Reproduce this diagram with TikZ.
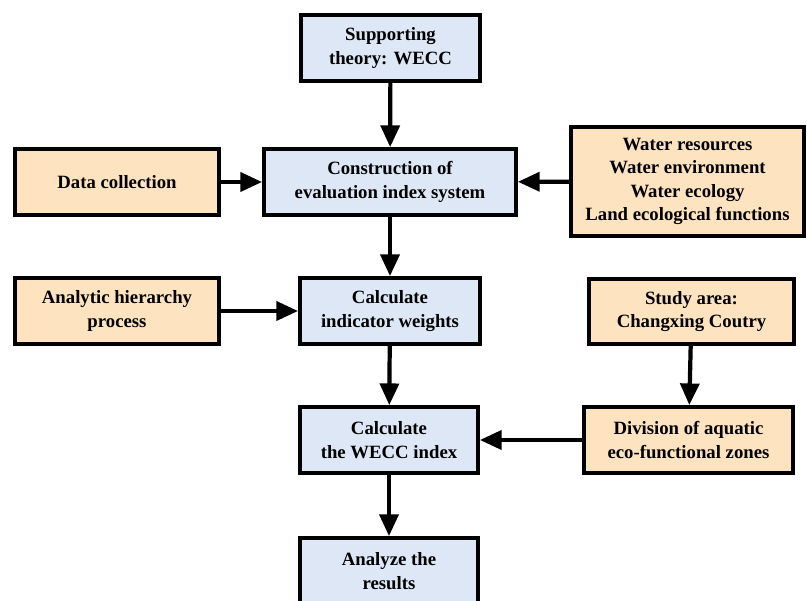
\documentclass[tikz,border=0pt]{standalone}
\usepackage{fontspec}
\setmainfont{Liberation Serif}[BoldFont={Liberation Serif Bold}]
\usetikzlibrary{arrows.meta}
\definecolor{boxblue}{HTML}{DEE7F6}
\definecolor{boxorange}{HTML}{FDE3BF}
\tikzset{
	stepbox/.style={draw=black, line width=3.2pt, fill=boxblue, align=center, inner sep=0pt,
		minimum height=1.98cm, font=\rmfamily\bfseries\fontsize{16}{20}\selectfont},
	inbox/.style={stepbox, fill=boxorange},
	flow/.style={line width=3.6pt, -{Triangle[length=18.5pt,width=16pt]}}
}
\begin{document}
\begin{tikzpicture}[x=0.03cm,y=-0.03cm]
	\useasboundingbox (0,0) rectangle (807,601);
	%main chain
	\node[stepbox, minimum width=5.37cm] (theory) at (390.5,48) {Supporting\\theory: WECC};
	\node[stepbox, minimum width=7.56cm] (system) at (390,182) {Construction of\\evaluation index system};
	\node[stepbox, minimum width=5.4cm] (weights) at (390,311) {Calculate\\indicator weights};
	\node[stepbox, minimum width=5.34cm] (index) at (389,440) {Calculate\\the WECC index};
	\node[stepbox, minimum width=5.34cm] (results) at (389,571) {Analyze the\\results};
	%inputs
	\node[inbox, minimum width=6.12cm] (data) at (117,182) {Data collection};
	\node[inbox, minimum width=6.99cm, minimum height=3.27cm] (aspects) at (687.5,181.5) {Water resources\\Water environment\\Water ecology\\Land ecological functions};
	\node[inbox, minimum width=6.12cm] (ahp) at (117,311) {Analytic hierarchy\\process};
	\node[inbox, minimum width=6.15cm, minimum height=1.95cm] (area) at (691.5,311.5) {Study area:\\Changxing Coutry};
	\node[inbox, minimum width=6.27cm] (zones) at (688.5,440) {Division of aquatic\\eco-functional zones};
	%arrows
	\draw[flow] (theory) -- (system);
	\draw[flow] (data) -- (system);
	\draw[flow] (aspects) -- (system);
	\draw[flow] (system) -- (weights);
	\draw[flow] (ahp) -- (weights);
	\draw[flow] (weights) -- (index);
	\draw[flow] (area) -- (zones);
	\draw[flow] (zones) -- (index);
	\draw[flow] (index) -- (results);
\end{tikzpicture}
\end{document}
